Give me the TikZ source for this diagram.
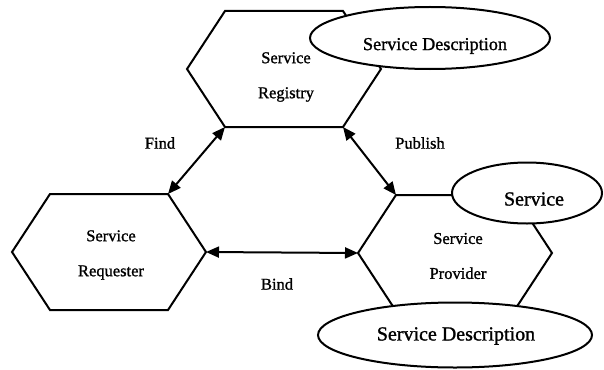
\documentclass[tikz,border=0pt]{standalone}
\usepackage{fontspec}
\setmainfont{Liberation Serif}[BoldFont=Liberation Serif,BoldFeatures={FakeBold=1.2}]
\usetikzlibrary{shapes.geometric,arrows.meta}
\tikzset{
  every node/.append style={font=\bfseries},
  hexline/.style={draw=black,line width=2pt,line join=miter},
  ell/.style={ellipse,draw=black,line width=2pt,fill=white,inner sep=0pt},
  hextext/.style={align=center,font=\fontsize{16.5}{35}\selectfont\bfseries},
  lbl/.style={font=\fontsize{16.5}{20}\selectfont\bfseries},
  dbl/.style={line width=2pt,{Triangle[length=13pt,width=11pt]}-{Triangle[length=13pt,width=11pt]}}
}
\begin{document}
\begin{tikzpicture}[x=1pt,y=-1pt]
\useasboundingbox (0,0) rectangle (604,369);
% Service Registry hexagon
\draw[hexline] (187,69) coordinate (reg-w) -- (225,11) coordinate (reg-nw) -- (343,11) coordinate (reg-ne)
  -- (381,69) coordinate (reg-e) -- (343,127) coordinate (reg-se) -- (225,127) coordinate (reg-sw) -- cycle;
\node[hextext] (regtext) at (286,77) {Service\\Registry};
% Service Requester hexagon
\draw[hexline] (12,252) coordinate (req-w) -- (50,194) coordinate (req-nw) -- (168,194) coordinate (req-ne)
  -- (206,252) coordinate (req-e) -- (168,310) coordinate (req-se) -- (50,310) coordinate (req-sw) -- cycle;
\node[hextext] (reqtext) at (111,255) {Service\\Requester};
% Service Provider hexagon
\draw[hexline] (358,253) coordinate (prov-w) -- (396,195) coordinate (prov-nw) -- (514,195) coordinate (prov-ne)
  -- (552,253) coordinate (prov-e) -- (514,311) coordinate (prov-se) -- (396,311) coordinate (prov-sw) -- cycle;
\node[hextext] (provtext) at (458,256) {Service\\Provider};
% ellipses
\node[ell,minimum width=240pt,minimum height=62pt] (regdesc) at (430,38) {};
\node[font=\fontsize{18.2}{22}\selectfont\bfseries] (regdesctext) at (435,46) {Service Description};
\node[ell,minimum width=150pt,minimum height=61pt] (svc) at (527,193) {};
\node[font=\fontsize{20}{22}\selectfont\bfseries] (svctext) at (534,199) {Service};
\node[ell,minimum width=274pt,minimum height=65pt] (provdesc) at (455,335) {};
\node[font=\fontsize{20}{22}\selectfont\bfseries] (provdesctext) at (456,336) {Service Description};
% connectors
\draw[dbl] (reg-sw) -- (req-ne);
\draw[dbl] (reg-se) -- (prov-nw);
\draw[dbl] (req-e) -- (prov-w);
% labels
\node[lbl] (find) at (160,143) {Find};
\node[lbl] (publish) at (420,143) {Publish};
\node[lbl] (bind) at (277,284) {Bind};
\end{tikzpicture}
\end{document}
